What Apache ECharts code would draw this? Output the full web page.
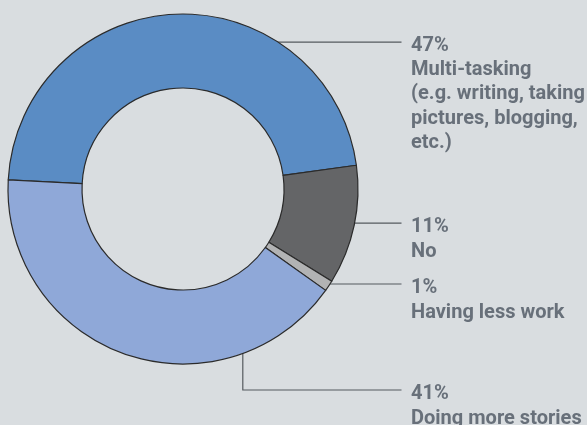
<!DOCTYPE html>
<html>
<head>
<meta charset="utf-8">
<script src="https://cdn.jsdelivr.net/npm/echarts@6/dist/echarts.min.js"></script>
<style>
  html, body { margin: 0; padding: 0; background: #d9dde0; }
  #chart { width: 587px; height: 425px; }
</style>
</head>
<body>
<div id="chart"></div>
<script>
// Survey answers, in drawing order (clockwise from the left edge of the ring)
const categories = [
  'Multi-tasking\n(e.g. writing, taking\npictures, blogging,\netc.)',
  'No',
  'Having less work',
  'Doing more stories'
];
const shares = [47, 11, 1, 41];
const sliceColors = ['#5a8cc4', '#646567', '#b2b3b4', '#8fa8d8'];

// Ring geometry (pixels)
const CENTER = [183, 189];
const R_IN = 101, R_OUT = 175;
const LABEL_X = 411;      // left edge of label text
const LINE_END_X = 401.5; // where leader lines stop
// Leader line anchor inside each slice: [angle in degrees, radius]
const anchors = [[65.8, 161], [-12.75, 155], [-34.9, 166], [-67.15, 154]];
const LAST_BEND_Y = 390;  // elbow of the bottom leader line
const LABEL_LINE_H = [24.3, 25, 25.5, 25.5];

// Condensed label type: a regular bold face squeezed horizontally
const FONT_SIZE = 21;
const FONT_FAMILY = 'Roboto';
const WIDEST_LINE_PX = 174;
const meas = document.createElement('canvas').getContext('2d');
meas.font = 'bold ' + FONT_SIZE + 'px ' + FONT_FAMILY;
const SQUEEZE = WIDEST_LINE_PX / meas.measureText('(e.g. writing, taking').width;

function anchorPoint(i) {
  const a = anchors[i][0] * Math.PI / 180, r = anchors[i][1];
  return [CENTER[0] + r * Math.cos(a), CENTER[1] - r * Math.sin(a)];
}

const labelGraphics = [];
categories.forEach((name, i) => {
  const p = anchorPoint(i);
  let pts, lineY;
  if (i === 3) {
    lineY = LAST_BEND_Y;
    pts = [p, [p[0], lineY], [LINE_END_X, lineY]];
  } else {
    lineY = p[1];
    pts = [p, [LINE_END_X, lineY]];
  }
  const lh = LABEL_LINE_H[i];
  labelGraphics.push({
    type: 'polyline',
    shape: { points: pts },
    style: { stroke: '#555a5f', lineWidth: 1.2, fill: null },
    silent: true
  });
  labelGraphics.push({
    type: 'text',
    x: LABEL_X,
    y: lineY + 3.5 - lh / 2,
    scaleX: SQUEEZE,
    silent: true,
    style: {
      text: shares[i] + '%\n' + name,
      fill: '#68707a',
      fontFamily: FONT_FAMILY,
      fontWeight: 'bold',
      fontSize: FONT_SIZE,
      lineHeight: lh,
      align: 'left',
      verticalAlign: 'top'
    }
  });
});

const chart = echarts.init(document.getElementById('chart'), null, { renderer: 'canvas' });
chart.setOption({
  backgroundColor: '#d9dde0',
  animation: false,
  series: [{
    type: 'pie',
    center: CENTER,
    radius: [R_IN, R_OUT],
    startAngle: 177,
    clockwise: true,
    data: categories.map((name, i) => ({
      name: name,
      value: shares[i],
      itemStyle: { color: sliceColors[i] }
    })),
    itemStyle: { borderColor: '#2b2b2b', borderWidth: 1.2 },
    emphasis: { disabled: true },
    label: { show: false },
    labelLine: { show: false }
  }],
  graphic: labelGraphics
});
</script>
</body>
</html>
